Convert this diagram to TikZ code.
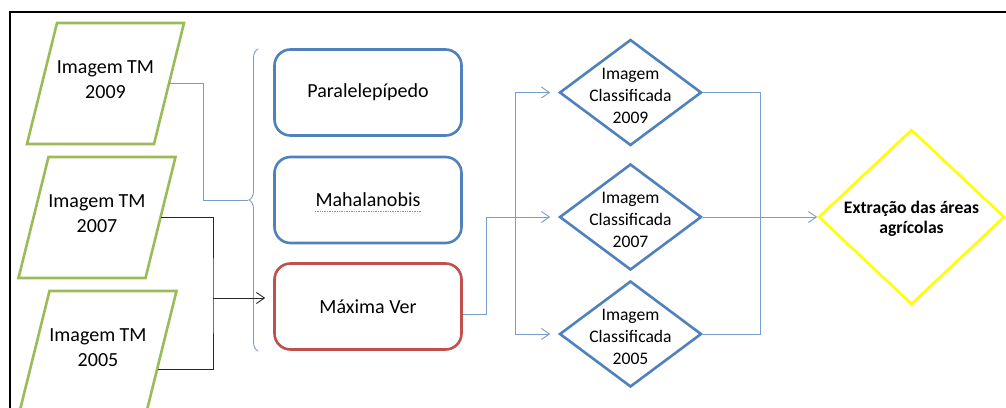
\documentclass[tikz,border=0pt]{standalone}
\usepackage{fontspec}
\setmainfont{Carlito}
\usetikzlibrary{shapes.geometric,arrows.meta,decorations.pathreplacing,calc}
\definecolor{obl}{HTML}{4F81BD}
\definecolor{ored}{HTML}{C0504D}
\definecolor{ogr}{HTML}{9BBB59}
\definecolor{oyl}{HTML}{FFFF00}
\definecolor{conn}{HTML}{7A9CC8}
\begin{document}
\begin{tikzpicture}[x=1pt,y=-1pt,
  imgbox/.style={rectangle, minimum width=157pt, minimum height=121pt,
    outer sep=0pt, inner sep=0pt},
  imgtext/.style={align=center, font=\fontsize{20}{25}\selectfont, inner sep=0pt},
  para/.style={draw=ogr, line width=2.6pt, line join=miter},
  method/.style={rectangle, draw=obl, rounded corners=16pt, line width=2.6pt,
    minimum width=187pt, minimum height=86pt, inner sep=0pt,
    font=\fontsize{20}{24}\selectfont},
  cls/.style={diamond, draw=obl, line width=2.6pt, minimum width=142pt,
    minimum height=106pt, inner sep=0pt},
  clstext/.style={align=center, font=\fontsize{17.6}{22}\selectfont, inner sep=0pt},
  cn/.style={draw=conn, line width=0.9pt},
  bk/.style={draw=black!85, line width=0.9pt},
  arr/.style={-{Straight Barb[length=8pt,width=11pt]}}
]
\useasboundingbox (0,0) rectangle (1006,407);
\clip (0,0) rectangle (1006,407);
% frame
\draw[line width=1.8pt] (10,12) rectangle (1030,430);

% input images
\foreach \n/\cx/\cy/\yr in {P1/105.5/83.5/2009, P2/97/217.5/2007, P3/98/351.5/2005}{
  \node[imgbox] (\n) at (\cx,\cy) {};
  \draw[para] ($(\n.north west)+(30,0)$) -- (\n.north east)
     -- ($(\n.south east)+(-30,0)$) -- (\n.south west) -- cycle;
  \node[imgtext] (\n t) at ($(\n.center)+(0,-3.5)$) {Imagem TM\\\yr};
}
\coordinate (p1o) at ($(P1.east)+(-15,0)$);
\coordinate (p2o) at ($(P2.east)+(-15,0)$);
\coordinate (p3o) at ($(P3.east)+(-19,17.5)$);

% methods
\node[method] (B1) at (368,92.5) {Paralelepípedo};
\node[method] (B2) at (368,200) {Mahalanobis};
\node[method, draw=ored] (B3) at (368,306.5) {Máxima Ver};
\draw[ored!80, densely dotted, line width=0.7pt] ($(B2.center)+(-53,11)$) -- ($(B2.center)+(53,11)$);

% classified images
\node[cls] (D1) at (630.5,92.5) {};
\node[clstext] (D1t) at ($(D1.center)+(0,3)$) {Imagem\\Classificada\\2009};
\node[cls] (D2) at (630.5,217) {};
\node[clstext] (D2t) at ($(D2.center)+(0,3)$) {Imagem\\Classificada\\2007};
\node[cls] (D3) at (630.5,334) {};
\node[clstext] (D3t) at ($(D3.center)+(0,3)$) {Imagem\\Classificada\\2005};

% extraction
\node[diamond, draw=oyl, line width=2.6pt, minimum width=186pt, minimum height=175pt, inner sep=0pt] (E) at (911.5,217) {};
\node[align=center, font=\bfseries\fontsize{17.6}{20}\selectfont, inner sep=0pt] (Et) at ($(E.center)+(0,2)$) {Extração das áreas\\agrícolas};

% brace
\coordinate (bt) at (248,200);
\draw[cn, decorate, decoration={brace, amplitude=9pt}] (258,351) -- (258,49);

% connectors from inputs
\draw[cn] (p1o) -- ++(34,0) |- (bt);
\coordinate (bx) at (213,298);
\draw[bk] (p2o) -| (bx) |- (p3o);
\draw[bk, arr, shorten >=8pt] (bx) -- (bx -| B3.west);

% from Maxima Ver to classified images
\coordinate (b3o) at ([yshift=-8pt]B3.east);
\draw[cn, arr, shorten >=8pt] (b3o) -- ++(24,0) |- (D2.west);
\coordinate (v) at (515,217);
\draw[cn, arr, shorten >=8pt] (v) |- (D1.west);
\draw[cn, arr, shorten >=8pt] (v) |- (D3.west);

% to extraction
\coordinate (w) at (760,217);
\draw[cn] (D1.east) -| (w) |- (D3.east);
\draw[cn, arr] (D2.east) -- (E.west);
\end{tikzpicture}
\end{document}
